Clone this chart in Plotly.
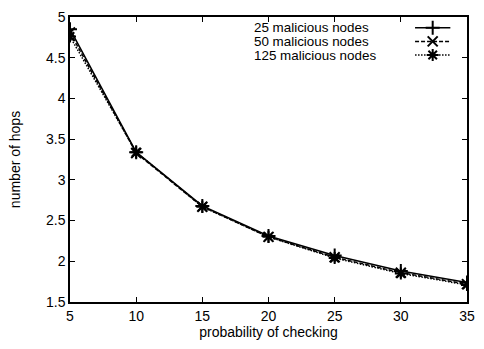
import plotly.graph_objects as go

prob = [5, 10, 15, 20, 25, 30, 35]
hops_25 = [4.85, 3.34, 2.68, 2.31, 2.07, 1.88, 1.74]
hops_50 = [4.81, 3.33, 2.67, 2.30, 2.05, 1.86, 1.72]
hops_125 = [4.76, 3.34, 2.67, 2.30, 2.04, 1.85, 1.71]
labels = ["25 malicious nodes", "50 malicious nodes", "125 malicious nodes"]

FONT = "Liberation Sans, Arial, sans-serif"

series = [
    (hops_25, "solid", "cross-thin-open"),
    (hops_50, "4px,2px", "x-thin-open"),
    (hops_125, "1.5px,1.5px", "asterisk-open"),
]

fig = go.Figure()
for (vals, dash, sym), name in zip(series, labels):
    fig.add_trace(go.Scatter(
        x=prob, y=vals, mode="lines+markers", name=name,
        line=dict(color="black", width=1.5, dash=dash),
        marker=dict(symbol=sym, size=10, color="black", line=dict(color="black", width=2)),
        showlegend=False,
    ))

# custom gnuplot-style legend (text, then sample) on an overlay pixel axis
rows = [11, 25, 39]
for (vals, dash, sym), name, ry in zip(series, labels, rows):
    fig.add_trace(go.Scatter(
        x=[352, 370, 388], y=[ry, ry, ry], mode="lines", xaxis="x2", yaxis="y2",
        line=dict(color="black", width=1.5, dash=dash), showlegend=False, hoverinfo="skip",
    ))
    fig.add_trace(go.Scatter(
        x=[370], y=[ry], mode="markers", xaxis="x2", yaxis="y2",
        marker=dict(symbol=sym, size=10, color="black", line=dict(color="black", width=2)),
        showlegend=False, hoverinfo="skip",
    ))
    fig.add_annotation(x=186, y=ry, xref="x2", yref="y2", text=name, showarrow=False,
                       xanchor="left", yanchor="middle",
                       font=dict(family=FONT, size=13.4, color="black"))

axis_common = dict(
    showline=True, linecolor="black", linewidth=1.5, mirror="ticks",
    ticks="inside", ticklen=5, tickcolor="black", tickwidth=1,
    showgrid=False, zeroline=False,
    tickfont=dict(family=FONT, size=14, color="black"),
)

fig.update_layout(
    width=484, height=349,
    margin=dict(l=70, r=9, t=10, b=47),
    paper_bgcolor="white", plot_bgcolor="white",
    xaxis=dict(range=[5, 35], tickvals=[5, 10, 15, 20, 25, 30, 35],
               title=dict(text="probability of checking", standoff=5,
                          font=dict(family=FONT, size=14, color="black")),
               **axis_common),
    yaxis=dict(range=[1.5, 5], tickvals=[1.5, 2, 2.5, 3, 3.5, 4, 4.5, 5],
               ticktext=["1.5", "2", "2.5", "3", "3.5", "4", "4.5", "5"],
               title=dict(text="number of hops", standoff=22,
                          font=dict(family=FONT, size=14, color="black")),
               **axis_common),
    xaxis2=dict(range=[0, 405], overlaying="x", visible=False, fixedrange=True),
    yaxis2=dict(range=[292, 0], overlaying="y", visible=False, fixedrange=True),
)

fig.write_html("out.html")
